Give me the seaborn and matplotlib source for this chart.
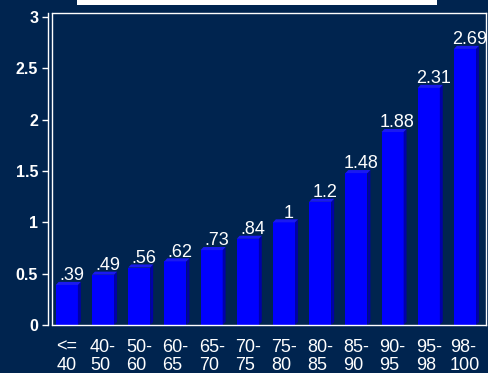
import matplotlib
matplotlib.use("Agg")
import matplotlib.pyplot as plt
from matplotlib.patches import Polygon, Rectangle
import seaborn as sns
import pandas as pd

# Income-percentile bands and their values
bands = ["<=\n40", "40-\n50", "50-\n60", "60-\n65", "65-\n70", "70-\n75",
         "75-\n80", "80-\n85", "85-\n90", "90-\n95", "95-\n98", "98-\n100"]
values = [0.39, 0.49, 0.56, 0.62, 0.73, 0.84, 1.0, 1.2, 1.48, 1.88, 2.31, 2.69]
value_labels = [".39", ".49", ".56", ".62", ".73", ".84", "1", "1.2",
                "1.48", "1.88", "2.31", "2.69"]
yticks = [0, 0.5, 1, 1.5, 2, 2.5, 3]
ytick_labels = ["0", "0.5", "1", "1.5", "2", "2.5", "3"]

bg = "#00244f"
front = "#0000ff"
side = "#0000a8"
top = "#1a1af0"

sns.set_style("dark")
plt.rcParams["font.family"] = ["Liberation Sans", "DejaVu Sans"]

df = pd.DataFrame({"band": bands, "value": values})

W, H = 489, 373
fig = plt.figure(figsize=(W / 100, H / 100), dpi=100, facecolor=bg)
ax = fig.add_axes([52 / W, 1 - 325 / H, (486 - 52) / W, (325 - 13) / H])
ax.set_facecolor(bg)

sns.barplot(data=df, x="band", y="value", color=front, saturation=1,
            width=0.61, ax=ax, linewidth=0)

ax.set_xlim(-0.41, 11.58)
ax.set_ylim(0, 3.04)

# frame: plot box plus a y axis set slightly apart from it
for s in ["top", "right", "bottom", "left"]:
    ax.spines[s].set_visible(True)
    ax.spines[s].set_color("white")
    ax.spines[s].set_linewidth(1)
ax.spines["left"].set_position(("outward", 3))
ax.axvline(ax.get_xlim()[0], color="white", lw=1, clip_on=False)

# depth faces for a shallow 3-D look, derived from each bar's geometry
dx, dy = 0.08, 0.03
for p in list(ax.patches):
    x0, w, h = p.get_x(), p.get_width(), p.get_height()
    ax.add_patch(Polygon([(x0 + w, 0), (x0 + w + dx, dy), (x0 + w + dx, h + dy),
                          (x0 + w, h)], closed=True, facecolor=side, lw=0))
    ax.add_patch(Polygon([(x0, h), (x0 + dx, h + dy), (x0 + w + dx, h + dy),
                          (x0 + w, h)], closed=True, facecolor=top, lw=0))

for i, (v, lab) in enumerate(zip(values, value_labels)):
    ax.text(i + 0.13, v + dy + 0.015, lab, ha="center", va="baseline",
            color="white", fontsize=13, clip_on=False)

ax.set_xlabel("")
ax.set_ylabel("")
ax.set_yticks(yticks)
ax.set_yticklabels(ytick_labels, fontweight="bold", fontsize=11.5, color="white")
ax.tick_params(axis="y", length=4, width=1, color="white", pad=3, left=True)
ax.tick_params(axis="x", length=0, pad=10, labelsize=13, labelcolor="white")
for t in ax.get_xticklabels():
    t.set_multialignment("left")
    t.set_linespacing(1.05)
ax.grid(False)

# white band at the top of the figure
fig.patches.append(Rectangle((77 / W, 1 - 5 / H), (437 - 77) / W, 5 / H,
                             transform=fig.transFigure, facecolor="white",
                             edgecolor="none"))

fig.savefig("out.png", dpi=100, facecolor=bg)
